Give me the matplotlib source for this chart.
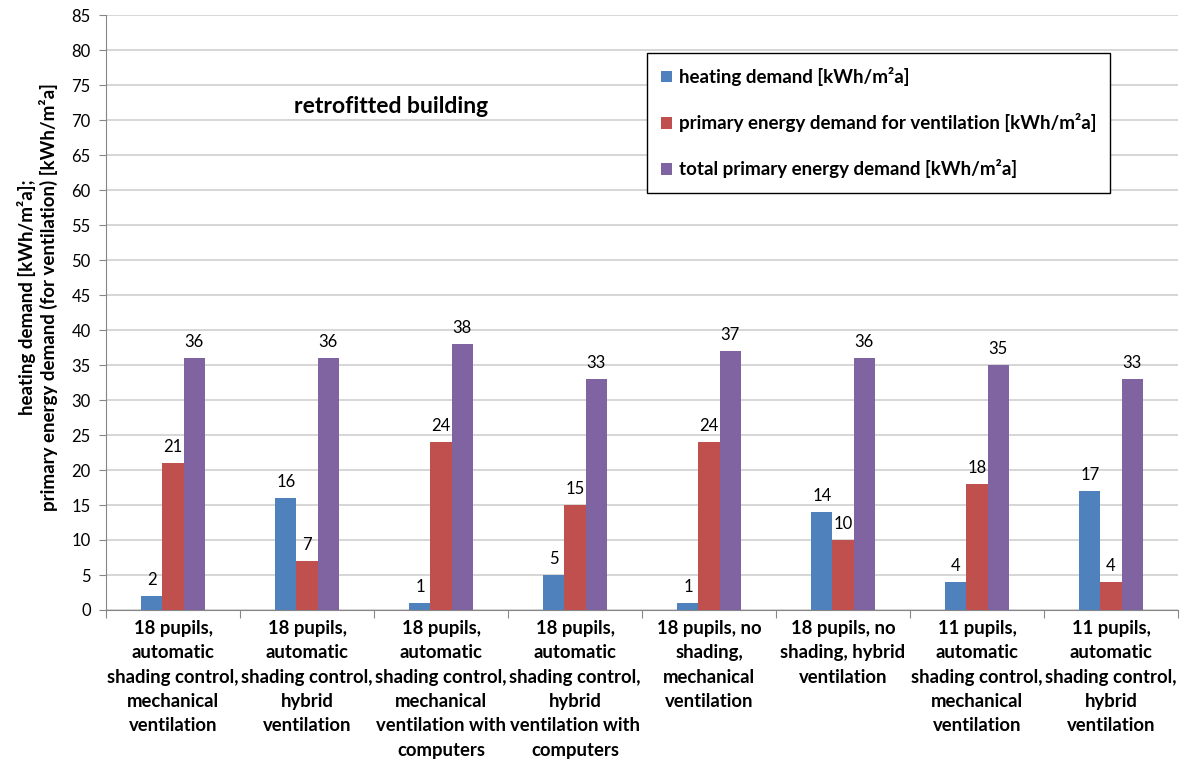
import numpy as np
import matplotlib.pyplot as plt

# scenario labels (x axis)
scenarios = [
    "18 pupils,\nautomatic\nshading control,\nmechanical\nventilation",
    "18 pupils,\nautomatic\nshading control,\nhybrid\nventilation",
    "18 pupils,\nautomatic\nshading control,\nmechanical\nventilation with\ncomputers",
    "18 pupils,\nautomatic\nshading control,\nhybrid\nventilation with\ncomputers",
    "18 pupils, no\nshading,\nmechanical\nventilation",
    "18 pupils, no\nshading, hybrid\nventilation",
    "11 pupils,\nautomatic\nshading control,\nmechanical\nventilation",
    "11 pupils,\nautomatic\nshading control,\nhybrid\nventilation",
]
heating = [2, 16, 1, 5, 1, 14, 4, 17]
ventilation = [21, 7, 24, 15, 24, 10, 18, 4]
total = [36, 36, 38, 33, 37, 36, 35, 33]

series_names = ["heating demand [kWh/m\u00b2a]",
                "primary energy demand for ventilation [kWh/m\u00b2a]",
                "total primary energy demand [kWh/m\u00b2a]"]
colors = ["#4F81BD", "#C0504D", "#8064A2"]

plt.rcParams['font.family'] = ['Lato', 'DejaVu Sans']

fig = plt.figure(figsize=(11.82, 7.64), dpi=100)
ax = fig.add_axes([106 / 1182, 1 - 610 / 764, 1072 / 1182, 595 / 764])

x = np.arange(len(scenarios)) + 0.5
w = 0.157
for k, (vals, name, c) in enumerate(zip([heating, ventilation, total], series_names, colors)):
    pos = x + (k - 1) * w
    ax.bar(pos, vals, width=w, color=c, label=name, zorder=3)
    for px, v in zip(pos, vals):
        ax.annotate(str(v), (px, v), xytext=(0, 6), textcoords='offset points',
                    ha='center', va='bottom', fontsize=12)

ax.set_xlim(0, len(scenarios))
ax.set_ylim(0, 85)
ax.set_yticks(np.arange(0, 86, 5))
ax.yaxis.grid(True, color='#d0d0d0', linewidth=1.2, zorder=0)
ax.tick_params(axis='y', labelsize=12, length=5, color='#868686', pad=6)

# category boundaries get the tick marks, labels sit between them
ax.set_xticks(np.arange(len(scenarios) + 1))
ax.set_xticklabels([])
ax.set_xticks(x, minor=True)
ax.set_xticklabels(scenarios, minor=True, fontsize=13.3, fontweight='bold', linespacing=1.53)
ax.tick_params(axis='x', which='major', length=6, color='#868686')
ax.tick_params(axis='x', which='minor', length=0, pad=7)

for s in ['top', 'right']:
    ax.spines[s].set_visible(False)
ax.spines['left'].set_color('#868686')
ax.spines['bottom'].set_color('#868686')

ax.set_ylabel("heating demand [kWh/m\u00b2a];\nprimary energy demand (for ventilation) [kWh/m\u00b2a]",
              fontsize=13.5, fontweight='bold', linespacing=1.2)
ax.yaxis.set_label_coords(-0.045, 0.526)

ax.text(2.13, 71.9, "retrofitted building", fontsize=16.5, fontweight='bold',
        ha='center', va='center')

leg = ax.legend(loc='upper left', bbox_to_anchor=(647 / 1182, 1 - 53 / 764),
                bbox_transform=fig.transFigure, frameon=True, fancybox=False,
                edgecolor='black', framealpha=1,
                prop={'weight': 'bold', 'size': 13.5},
                handlelength=0.6, handleheight=0.6, handletextpad=0.35,
                labelspacing=1.45, borderpad=0.75, borderaxespad=0)
leg.get_frame().set_linewidth(1.0)

fig.savefig("out.png", dpi=100)
